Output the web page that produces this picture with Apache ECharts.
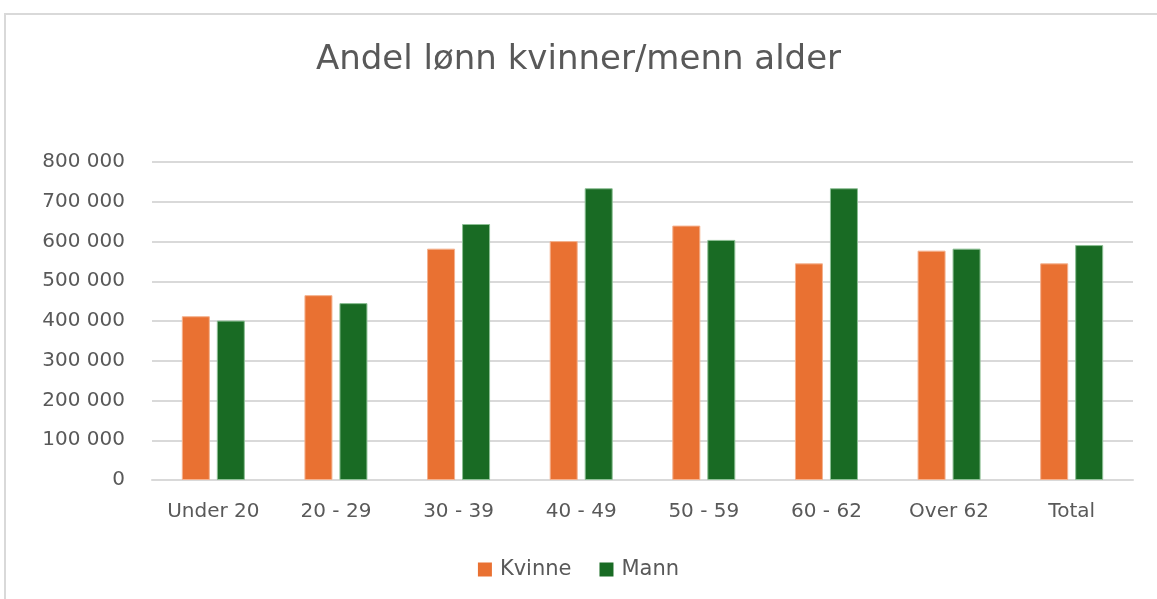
<!DOCTYPE html>
<html>
<head>
<meta charset="utf-8">
<script src="https://cdn.jsdelivr.net/npm/echarts@6/dist/echarts.min.js"></script>
<style>
  html, body { margin: 0; padding: 0; background: #fff; }
  #frame { position: absolute; left: 4px; top: 13px; width: 1170px; height: 600px; border: 2px solid #d9d9d9; box-sizing: border-box; }
  #chart { position: absolute; left: 0; top: 0; width: 1157px; height: 599px; }
</style>
</head>
<body>
<div id="frame"></div>
<div id="chart"></div>
<script>
const categories = ["Under 20", "20 - 29", "30 - 39", "40 - 49", "50 - 59", "60 - 62", "Over 62", "Total"];
const kvinne = [412000, 465000, 582000, 601000, 640000, 545000, 577000, 545000];
const mann = [401000, 445000, 644000, 734000, 604000, 734000, 582000, 591000];
const yTicks = [0, 100000, 200000, 300000, 400000, 500000, 600000, 700000, 800000];

const textColor = "#595959";
const gridColor = "#d9d9d9";
const font = "'DejaVu Sans', sans-serif";

function fmt(v) {
    return String(v).replace(/\B(?=(\d{3})+(?!\d))/g, " ");
}

const chart = echarts.init(document.getElementById("chart"), null, { renderer: "canvas" });

chart.setOption({
    backgroundColor: "transparent",
    animation: false,
    textStyle: { fontFamily: font, color: textColor },
    title: {
        text: "Andel lønn kvinner/menn alder",
        left: "center",
        top: 38,
        textStyle: { fontFamily: font, fontSize: 34, fontWeight: "normal", color: textColor },
    },
    legend: {
        bottom: 14,
        left: "center",
        itemWidth: 14,
        itemHeight: 14,
        itemGap: 28,
        icon: "rect",
        itemStyle: { borderWidth: 0 },
        textStyle: { fontFamily: font, fontSize: 21, color: textColor, padding: [0, 0, 0, 3] },
        data: ["Kvinne", "Mann"],
    },
    grid: { left: 152, right: 24, top: 162, bottom: 119 },
    xAxis: {
        type: "category",
        data: categories,
        axisLine: { lineStyle: { color: gridColor, width: 2 } },
        axisTick: { show: false },
        axisLabel: { fontFamily: font, fontSize: 20, color: textColor, margin: 22 },
    },
    yAxis: {
        type: "value",
        min: 0,
        max: yTicks[yTicks.length - 1],
        interval: 100000,
        axisLine: { show: false },
        axisTick: { show: false },
        splitLine: { lineStyle: { color: gridColor, width: 2 } },
        axisLabel: { fontFamily: font, fontSize: 20, color: textColor, margin: 27, formatter: fmt },
    },
    series: [
        {
            name: "Kvinne",
            type: "bar",
            data: kvinne,
            barWidth: 28,
            barGap: "25%",
            itemStyle: { color: "#e97132", borderColor: "#f4b18e", borderWidth: 1 },
        },
        {
            name: "Mann",
            type: "bar",
            data: mann,
            barWidth: 28,
            itemStyle: { color: "#196b24", borderColor: "#8cbf94", borderWidth: 1 },
        },
    ],
});
</script>
</body>
</html>
